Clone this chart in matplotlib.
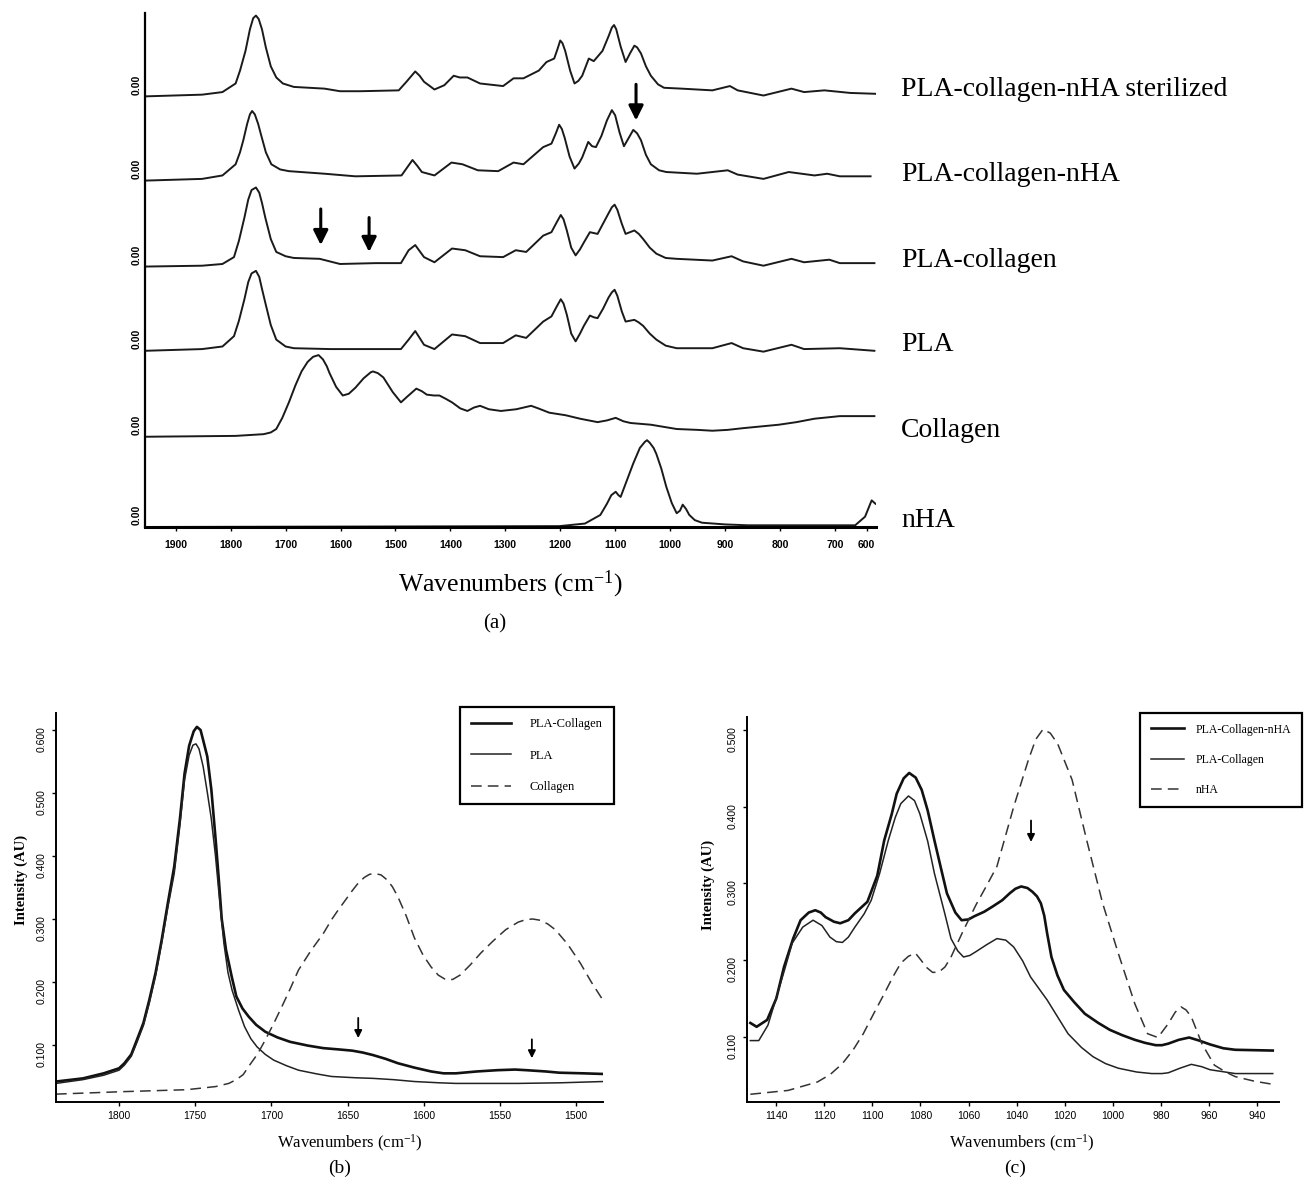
# FTIR spectra of PLA / collagen / nHA scaffolds, three panels (a), (b), (c)

import matplotlib
matplotlib.use('Agg')
import matplotlib.pyplot as plt

plt.rcParams['mathtext.fontset'] = 'custom'
plt.rcParams['mathtext.rm'] = 'Liberation Serif'
plt.rcParams['mathtext.it'] = 'Liberation Serif:italic'

serifFont = 'Liberation Serif'
sansFont = 'Liberation Sans'

# ---------------- panel (a): stacked spectra, 1956 - 626 cm-1 ----------------
# heights are relative to each trace's own baseline
wnSterilized = [1956, 1852, 1815, 1791, 1783, 1773, 1765, 1759, 1754, 1749, 1743, 1736, 1727, 1717,
                1705, 1685, 1629, 1601, 1564, 1494, 1480, 1464, 1456, 1448, 1429, 1411, 1394, 1383,
                1369, 1346, 1304, 1285, 1267, 1239, 1225, 1211, 1205, 1200, 1196, 1191, 1182, 1174,
                1167, 1160, 1148, 1139, 1123, 1112, 1106, 1102, 1098, 1090, 1081, 1073, 1065, 1060,
                1053, 1044, 1035, 1022, 1011, 979, 923, 891, 877, 830, 779, 756, 719, 672, 626]
hSterilized = [0.00, 0.02, 0.05, 0.15, 0.30, 0.53, 0.78, 0.91, 0.94, 0.90, 0.78, 0.57, 0.35, 0.22,
               0.15, 0.11, 0.09, 0.06, 0.06, 0.07, 0.17, 0.29, 0.24, 0.17, 0.08, 0.13, 0.24, 0.22,
               0.22, 0.15, 0.12, 0.21, 0.21, 0.30, 0.40, 0.44, 0.55, 0.65, 0.62, 0.53, 0.30, 0.15,
               0.18, 0.24, 0.44, 0.41, 0.53, 0.70, 0.80, 0.83, 0.78, 0.58, 0.40, 0.50, 0.59, 0.57,
               0.50, 0.35, 0.24, 0.14, 0.10, 0.09, 0.07, 0.12, 0.07, 0.01, 0.09, 0.05, 0.07, 0.04, 0.03]

wnCollNha = [1956, 1852, 1815, 1791, 1783, 1777, 1770, 1765, 1761, 1756, 1750, 1745, 1736, 1726,
             1710, 1694, 1629, 1573, 1489, 1469, 1460, 1452, 1429, 1398, 1378, 1350, 1313, 1285,
             1267, 1231, 1216, 1208, 1202, 1197, 1192, 1183, 1174, 1166, 1160, 1149, 1142, 1135,
             1125, 1115, 1106, 1100, 1092, 1084, 1075, 1067, 1060, 1053, 1044, 1035, 1020, 1007,
             951, 895, 877, 830, 784, 737, 714, 691, 635]
hCollNha = [0.00, 0.02, 0.06, 0.19, 0.33, 0.47, 0.66, 0.77, 0.81, 0.77, 0.66, 0.54, 0.33, 0.19,
            0.13, 0.11, 0.08, 0.05, 0.06, 0.24, 0.17, 0.10, 0.06, 0.21, 0.19, 0.12, 0.11, 0.21,
            0.19, 0.39, 0.43, 0.55, 0.65, 0.60, 0.50, 0.28, 0.14, 0.20, 0.27, 0.45, 0.40, 0.39,
            0.52, 0.70, 0.82, 0.76, 0.56, 0.40, 0.50, 0.59, 0.55, 0.47, 0.30, 0.19, 0.12, 0.10,
            0.08, 0.12, 0.07, 0.02, 0.10, 0.06, 0.08, 0.05, 0.05]

wnCollagenPla = [1956, 1852, 1815, 1794, 1785, 1775, 1768, 1762, 1754, 1748, 1743, 1737, 1727, 1717,
                 1700, 1685, 1638, 1601, 1536, 1490, 1476, 1464, 1456, 1448, 1429, 1397, 1373, 1346,
                 1304, 1281, 1262, 1231, 1216, 1206, 1199, 1194, 1188, 1180, 1172, 1164, 1157, 1146,
                 1139, 1132, 1122, 1112, 1106, 1101, 1096, 1088, 1081, 1073, 1065, 1057, 1049, 1037,
                 1025, 1008, 988, 923, 888, 867, 830, 779, 756, 710, 691, 628]
hCollagenPla = [0.00, 0.01, 0.03, 0.11, 0.30, 0.57, 0.78, 0.89, 0.92, 0.86, 0.74, 0.57, 0.32, 0.17,
                0.12, 0.10, 0.09, 0.03, 0.04, 0.04, 0.19, 0.25, 0.18, 0.11, 0.05, 0.21, 0.19, 0.12,
                0.11, 0.19, 0.17, 0.36, 0.40, 0.52, 0.60, 0.55, 0.42, 0.22, 0.13, 0.20, 0.28, 0.40,
                0.39, 0.38, 0.50, 0.62, 0.69, 0.72, 0.66, 0.50, 0.38, 0.40, 0.42, 0.38, 0.32, 0.22,
                0.15, 0.10, 0.09, 0.07, 0.12, 0.06, 0.01, 0.09, 0.05, 0.08, 0.04, 0.04]

wnPla = [1956, 1852, 1815, 1794, 1785, 1775, 1768, 1762, 1754, 1748, 1743, 1737, 1727, 1717, 1700,
         1685, 1619, 1490, 1476, 1464, 1456, 1448, 1429, 1397, 1373, 1346, 1304, 1281, 1262, 1231,
         1216, 1206, 1199, 1194, 1188, 1180, 1172, 1164, 1157, 1146, 1139, 1132, 1122, 1112, 1106,
         1101, 1096, 1088, 1081, 1073, 1065, 1057, 1049, 1037, 1025, 1008, 988, 923, 888, 867, 830,
         779, 756, 691, 628]
hPla = [0.00, 0.02, 0.05, 0.17, 0.35, 0.60, 0.80, 0.90, 0.93, 0.86, 0.72, 0.56, 0.30, 0.13, 0.05,
        0.03, 0.02, 0.02, 0.13, 0.23, 0.15, 0.07, 0.02, 0.19, 0.17, 0.09, 0.09, 0.18, 0.15, 0.34,
        0.40, 0.52, 0.60, 0.55, 0.42, 0.20, 0.11, 0.20, 0.29, 0.41, 0.39, 0.38, 0.49, 0.62, 0.68,
        0.71, 0.64, 0.46, 0.34, 0.35, 0.36, 0.33, 0.29, 0.20, 0.13, 0.06, 0.03, 0.03, 0.09, 0.03, -0.01,
        0.07, 0.02, 0.03, 0.00]

wnCollagen = [1956, 1791, 1740, 1727, 1717, 1706, 1694, 1682, 1671, 1660, 1650, 1640, 1632, 1625,
              1620, 1608, 1596, 1585, 1573, 1558, 1545, 1541, 1532, 1522, 1505, 1490, 1478, 1462,
              1452, 1443, 1430, 1420, 1408, 1397, 1382, 1369, 1357, 1346, 1330, 1308, 1280, 1253,
              1240, 1220, 1190, 1164, 1132, 1115, 1099, 1085, 1072, 1035, 988, 950, 923, 895, 867,
              802, 770, 737, 691, 628]
hCollagen = [0.00, 0.01, 0.03, 0.05, 0.09, 0.22, 0.40, 0.60, 0.76, 0.87, 0.93, 0.95, 0.90, 0.82,
             0.74, 0.58, 0.48, 0.50, 0.57, 0.68, 0.75, 0.76, 0.74, 0.69, 0.52, 0.40, 0.47, 0.56,
             0.53, 0.49, 0.48, 0.48, 0.44, 0.40, 0.33, 0.30, 0.34, 0.36, 0.32, 0.30, 0.32, 0.36,
             0.33, 0.28, 0.25, 0.21, 0.17, 0.19, 0.22, 0.18, 0.16, 0.14, 0.09, 0.08, 0.07, 0.08, 0.10,
             0.14, 0.17, 0.21, 0.24, 0.24]

wnNha = [1956, 1202, 1155, 1127, 1115, 1107, 1099, 1094, 1090, 1080, 1067, 1055, 1046, 1042, 1037,
         1030, 1025, 1016, 1007, 997, 988, 982, 977, 971, 965, 955, 942, 900, 858, 719, 663, 645,
         633, 626]
hNha = [0.00, 0.01, 0.04, 0.14, 0.27, 0.37, 0.41, 0.37, 0.35, 0.52, 0.74, 0.92, 0.99, 1.01, 0.98,
        0.92, 0.85, 0.68, 0.47, 0.28, 0.16, 0.19, 0.26, 0.21, 0.14, 0.08, 0.05, 0.03, 0.02, 0.02,
        0.02, 0.12, 0.31, 0.27]

traceNames = ['PLA-collagen-nHA sterilized', 'PLA-collagen-nHA', 'PLA-collagen', 'PLA',
              'Collagen', 'nHA']
traceOffsets = [5.01, 4.03, 3.03, 2.05, 1.05, 0.0]

topTicks = [1900, 1800, 1700, 1600, 1500, 1400, 1300, 1200, 1100, 1000, 900, 800, 700, 642]
topTickLabels = ['1900', '1800', '1700', '1600', '1500', '1400', '1300', '1200', '1100', '1000',
                 '900', '800', '700', '600']

# ---------------- panel (b): 1841 - 1482 cm-1 ----------------
wnPlaCollB = [1841.4, 1823.7, 1810.1, 1800.0, 1796.5, 1792.0, 1788.3, 1784.0, 1780.2, 1776.0, 1772.0,
              1768.0, 1763.8, 1760.0, 1757.0, 1754.0, 1751.0, 1748.9, 1746.5, 1744.8, 1742.1, 1739.4,
              1736.6, 1734.5, 1732.6, 1729.8, 1726.0, 1723.0, 1719.0, 1714.9, 1710.0, 1704.0, 1696.0,
              1687.7, 1676.0, 1665.9, 1656.0, 1646.9, 1640.0, 1633.3, 1625.0, 1616.9, 1606.0, 1595.2,
              1587.0, 1578.9, 1565.0, 1551.7, 1540.0, 1532.6, 1520.0, 1510.9, 1495.0, 1482.3]
iPlaCollB = [0.042, 0.047, 0.055, 0.063, 0.071, 0.085, 0.108, 0.135, 0.171, 0.215, 0.267,
             0.325, 0.383, 0.460, 0.531, 0.575, 0.598, 0.605, 0.600, 0.584, 0.558, 0.505,
             0.426, 0.362, 0.300, 0.251, 0.208, 0.177, 0.158, 0.145, 0.132, 0.121, 0.112,
             0.105, 0.099, 0.095, 0.093, 0.091, 0.088, 0.084, 0.078, 0.071, 0.064, 0.058,
             0.055, 0.055, 0.058, 0.060, 0.061, 0.060, 0.058, 0.056, 0.055, 0.054]

wnPlaB = [1841.4, 1823.7, 1810.1, 1800.0, 1796.5, 1792.0, 1788.3, 1784.0, 1780.2, 1776.0, 1772.0,
          1768.0, 1763.8, 1760.0, 1757.0, 1754.0, 1751.5, 1749.5, 1747.5, 1744.8, 1742.0, 1739.5,
          1736.7, 1734.0, 1731.2, 1728.5, 1725.8, 1721.5, 1717.6, 1713.5, 1709.4, 1704.0, 1698.5,
          1690.0, 1682.2, 1670.0, 1660.5, 1645.0, 1633.3, 1620.0, 1606.1, 1590.0, 1578.9, 1560.0,
          1538.1, 1510.0, 1482.3]
iPlaB = [0.039, 0.045, 0.052, 0.060, 0.068, 0.082, 0.104, 0.131, 0.166, 0.210, 0.262,
         0.318, 0.372, 0.450, 0.521, 0.560, 0.576, 0.578, 0.570, 0.542, 0.500, 0.460,
         0.400, 0.330, 0.262, 0.215, 0.187, 0.155, 0.129, 0.110, 0.097, 0.085, 0.076,
         0.067, 0.060, 0.054, 0.050, 0.048, 0.047, 0.045, 0.042, 0.040, 0.039, 0.039,
         0.039, 0.040, 0.042]

wnCollagenB = [1841.4, 1796.5, 1755.7, 1736.6, 1728.0, 1723.0, 1718.5, 1714.9, 1709.0, 1704.0, 1698.5,
               1693.1, 1687.5, 1682.2, 1674.0, 1665.9, 1660.5, 1656.5, 1652.3, 1646.9, 1643.0, 1639.0,
               1635.5, 1631.9, 1628.0, 1624.0, 1620.5, 1616.9, 1611.5, 1606.1, 1600.5, 1595.2, 1590.5,
               1585.7, 1581.0, 1576.1, 1569.5, 1562.5, 1554.5, 1546.2, 1538.0, 1533.0, 1528.5, 1523.5,
               1518.5, 1513.6, 1505.5, 1497.2, 1490.0, 1482.3]
iCollagenB = [0.022, 0.026, 0.029, 0.034, 0.039, 0.045, 0.053, 0.066, 0.086, 0.108, 0.134,
              0.161, 0.190, 0.219, 0.250, 0.277, 0.299, 0.313, 0.327, 0.345, 0.357, 0.366,
              0.371, 0.372, 0.370, 0.362, 0.351, 0.335, 0.305, 0.270, 0.243, 0.224, 0.211,
              0.204, 0.204, 0.211, 0.227, 0.246, 0.265, 0.283, 0.295, 0.299, 0.300, 0.298,
              0.292, 0.283, 0.260, 0.230, 0.200, 0.171]

# ---------------- panel (c): 1152 - 931 cm-1 ----------------
wnCollNhaC = [1150.8, 1148.2, 1143.8, 1140.0, 1136.8, 1133.0, 1129.9, 1126.5, 1123.8, 1121.5, 1119.5,
              1116.0, 1113.4, 1110.0, 1107.3, 1102.1, 1098.0, 1095.1, 1092.0, 1089.9, 1087.0, 1084.7,
              1082.0, 1079.5, 1077.0, 1074.2, 1071.5, 1069.0, 1065.5, 1062.9, 1060.0, 1057.7, 1053.5,
              1049.9, 1046.0, 1042.9, 1040.5, 1038.1, 1035.5, 1033.4, 1031.5, 1029.9, 1028.5, 1027.3,
              1025.5, 1023.0, 1020.3, 1016.0, 1011.6, 1006.0, 1001.2, 996.0, 990.8, 986.5, 982.1,
              979.5, 976.9, 972.5, 968.2, 964.0, 959.5, 954.0, 949.0, 933.4]
iCollNhaC = [0.118, 0.113, 0.122, 0.150, 0.191, 0.228, 0.252, 0.262, 0.265, 0.262, 0.256,
             0.250, 0.248, 0.252, 0.261, 0.276, 0.310, 0.356, 0.390, 0.417, 0.437, 0.444,
             0.438, 0.422, 0.395, 0.356, 0.320, 0.287, 0.262, 0.252, 0.253, 0.257, 0.263,
             0.270, 0.278, 0.287, 0.293, 0.296, 0.294, 0.289, 0.283, 0.274, 0.258, 0.235,
             0.204, 0.180, 0.161, 0.145, 0.130, 0.118, 0.109, 0.102, 0.096, 0.092, 0.089,
             0.089, 0.091, 0.096, 0.099, 0.095, 0.090, 0.085, 0.083, 0.082]

wnPlaCollC = [1150.8, 1147.3, 1143.5, 1140.3, 1136.5, 1133.4, 1129.0, 1124.7, 1121.0, 1117.7, 1115.0,
              1112.5, 1110.0, 1107.3, 1103.5, 1100.5, 1097.0, 1093.4, 1090.5, 1088.2, 1085.0, 1082.5,
              1080.3, 1077.0, 1074.2, 1070.0, 1067.3, 1064.5, 1062.1, 1059.5, 1056.9, 1052.5, 1048.2,
              1044.5, 1041.2, 1037.5, 1034.2, 1027.3, 1018.6, 1013.0, 1008.2, 1003.0, 997.7, 990.0,
              983.8, 979.5, 976.9, 972.0, 967.3, 963.0, 959.5, 949.0, 933.4]
iPlaCollC = [0.095, 0.095, 0.115, 0.148, 0.188, 0.222, 0.243, 0.252, 0.245, 0.230, 0.224,
             0.223, 0.230, 0.243, 0.260, 0.278, 0.313, 0.356, 0.386, 0.404, 0.414, 0.408,
             0.391, 0.355, 0.313, 0.262, 0.228, 0.212, 0.204, 0.206, 0.211, 0.220, 0.228,
             0.226, 0.217, 0.199, 0.178, 0.148, 0.104, 0.086, 0.074, 0.065, 0.059, 0.054,
             0.052, 0.052, 0.053, 0.059, 0.064, 0.061, 0.057, 0.052, 0.052]

wnNhaC = [1150.8, 1135.1, 1122.9, 1117.5, 1112.5, 1108.0, 1103.8, 1099.5, 1095.1, 1091.5, 1088.2,
          1085.0, 1082.1, 1079.8, 1077.7, 1075.0, 1072.5, 1069.8, 1067.3, 1062.1, 1056.9, 1052.5,
          1048.2, 1041.2, 1035.1, 1032.0, 1029.0, 1026.0, 1022.9, 1016.9, 1010.8, 1004.2, 997.7,
          990.8, 985.5, 981.2, 976.9, 974.0, 971.6, 969.5, 967.3, 962.9, 957.7, 953.0, 949.0, 941.0,
          933.4]
iNhaC = [0.025, 0.030, 0.041, 0.051, 0.065, 0.083, 0.104, 0.130, 0.156, 0.178, 0.196,
         0.205, 0.209, 0.200, 0.191, 0.184, 0.184, 0.191, 0.204, 0.239, 0.272, 0.297,
         0.322, 0.400, 0.461, 0.488, 0.501, 0.496, 0.482, 0.435, 0.356, 0.274, 0.209,
         0.143, 0.104, 0.099, 0.117, 0.132, 0.139, 0.135, 0.126, 0.091, 0.063, 0.054, 0.048,
         0.042, 0.038]

W, H = 1306, 1182
fig = plt.figure(figsize=(W / 100, H / 100), dpi=100)

# ======================= (a) =======================
axA = fig.add_axes([145 / W, 1 - 527 / H, 730.5 / W, 514 / H])
topSeries = [(wnSterilized, hSterilized), (wnCollNha, hCollNha), (wnCollagenPla, hCollagenPla),
             (wnPla, hPla), (wnCollagen, hCollagen), (wnNha, hNha)]
for (wn, h), off, name in zip(topSeries, traceOffsets, traceNames):
    axA.plot(wn, [v + off for v in h], color='#1a1a1a', lw=1.4, solid_joinstyle='round')
    axA.text(1.035, off, name, transform=axA.get_yaxis_transform(), fontsize=20,
             family=serifFont, va='baseline', ha='left', clip_on=False)
    axA.text(-0.004, off + 0.02, '0.00', transform=axA.get_yaxis_transform(), rotation=90,
             fontsize=7.5, family=sansFont, fontweight='bold', ha='right', va='bottom')

axA.set_xlim(1956, 626)
axA.set_ylim(0, 5.98)
axA.set_xticks(topTicks)
axA.set_xticklabels(topTickLabels, family=sansFont, fontweight='bold', fontsize=7.5)
axA.set_yticks([])
axA.tick_params(axis='x', length=3, width=1, pad=6)
for s in ['top', 'right']:
    axA.spines[s].set_visible(False)
axA.spines['bottom'].set_linewidth(2.2)
axA.spines['left'].set_linewidth(1.6)

bigArrow = dict(arrowstyle='-|>', color='black', lw=2.2, mutation_scale=22, shrinkA=0, shrinkB=0)
axA.annotate('', xy=(1062, 4.73), xytext=(1062, 5.15), arrowprops=bigArrow)
axA.annotate('', xy=(1636, 3.28), xytext=(1636, 3.70), arrowprops=bigArrow)
axA.annotate('', xy=(1548, 3.20), xytext=(1548, 3.60), arrowprops=bigArrow)

fig.text(510 / W, 1 - 584 / H, 'Wavenumbers (cm$^{\\mathrm{-1}}$)', fontsize=18.5,
         family=serifFont, ha='center', va='center')
fig.text(495 / W, 1 - 624 / H, '(a)', fontsize=15, family=serifFont, ha='center', va='center')


# ======================= (b) and (c) =======================
def styleSmallAxes(ax):
    for s in ['top', 'right']:
        ax.spines[s].set_visible(False)
    ax.spines['left'].set_linewidth(1.4)
    ax.spines['bottom'].set_linewidth(1.4)
    ax.tick_params(axis='both', length=3, width=1, labelsize=7.5)
    ax.tick_params(axis='y', labelrotation=90)
    for lab in ax.get_xticklabels() + ax.get_yticklabels():
        lab.set_family(sansFont)


smallArrow = dict(arrowstyle='-|>', color='black', lw=1.3, mutation_scale=11, shrinkA=0, shrinkB=0)
legendStyle = dict(loc='upper left', bbox_transform=fig.transFigure, borderaxespad=0,
                   fancybox=False, edgecolor='black', framealpha=1,
                   labelspacing=1.55, borderpad=0.9)

axB = fig.add_axes([56 / W, 1 - 1102 / H, 547 / W, 389 / H])
axB.plot(wnPlaCollB, iPlaCollB, color='#111111', lw=1.9, label='PLA-Collagen')
axB.plot(wnPlaB, iPlaB, color='#222222', lw=1.1, label='PLA')
axB.plot(wnCollagenB, iCollagenB, color='#333333', lw=1.1, dashes=(7, 4), label='Collagen')
axB.set_xlim(1841.4, 1482.3)
axB.set_ylim(0.0095, 0.627)
axB.set_xticks([1800, 1750, 1700, 1650, 1600, 1550, 1500])
axB.set_yticks([0.1, 0.2, 0.3, 0.4, 0.5, 0.6])
axB.set_yticklabels(['0.100', '0.200', '0.300', '0.400', '0.500', '0.600'])
styleSmallAxes(axB)
axB.annotate('', xy=(1643, 0.111), xytext=(1643, 0.143), arrowprops=smallArrow)
axB.annotate('', xy=(1529, 0.079), xytext=(1529, 0.109), arrowprops=smallArrow)
legB = axB.legend(bbox_to_anchor=(460 / W, 1 - 707 / H), prop={'family': serifFont, 'size': 9},
                  handlelength=3.2, handletextpad=1.5, **legendStyle)
legB.get_frame().set_linewidth(1.6)

fig.text(21 / W, 1 - 880 / H, 'Intensity (AU)', rotation=90, fontsize=10.5, family=serifFont,
         fontweight='bold', ha='center', va='center')
fig.text(350 / W, 1 - 1143 / H, 'Wavenumbers (cm$^{\\mathrm{-1}}$)', fontsize=12,
         family=serifFont, ha='center', va='center')
fig.text(340 / W, 1 - 1168 / H, '(b)', fontsize=14, family=serifFont, ha='center', va='center')

axC = fig.add_axes([747 / W, 1 - 1101.7 / H, 532 / W, 384.7 / H])
axC.plot(wnCollNhaC, iCollNhaC, color='#111111', lw=1.9, label='PLA-Collagen-nHA')
axC.plot(wnPlaCollC, iPlaCollC, color='#222222', lw=1.1, label='PLA-Collagen')
axC.plot(wnNhaC, iNhaC, color='#333333', lw=1.1, dashes=(7, 4), label='nHA')
axC.set_xlim(1152.2, 930.8)
axC.set_ylim(0.0153, 0.517)
axC.set_xticks([1140, 1120, 1100, 1080, 1060, 1040, 1020, 1000, 980, 960, 940])
axC.set_yticks([0.1, 0.2, 0.3, 0.4, 0.5])
axC.set_yticklabels(['0.100', '0.200', '0.300', '0.400', '0.500'])
styleSmallAxes(axC)
axC.annotate('', xy=(1034, 0.354), xytext=(1034, 0.382), arrowprops=smallArrow)
legC = axC.legend(bbox_to_anchor=(1140 / W, 1 - 713 / H), prop={'family': serifFont, 'size': 8.5},
                  handlelength=2.8, handletextpad=1.0, **legendStyle)
legC.get_frame().set_linewidth(1.6)

fig.text(708 / W, 1 - 885 / H, 'Intensity (AU)', rotation=90, fontsize=10.5, family=serifFont,
         fontweight='bold', ha='center', va='center')
fig.text(1022 / W, 1 - 1143 / H, 'Wavenumbers (cm$^{\\mathrm{-1}}$)', fontsize=12,
         family=serifFont, ha='center', va='center')
fig.text(1015 / W, 1 - 1168 / H, '(c)', fontsize=14, family=serifFont, ha='center', va='center')

fig.savefig('out.png', dpi=100, facecolor='white')
